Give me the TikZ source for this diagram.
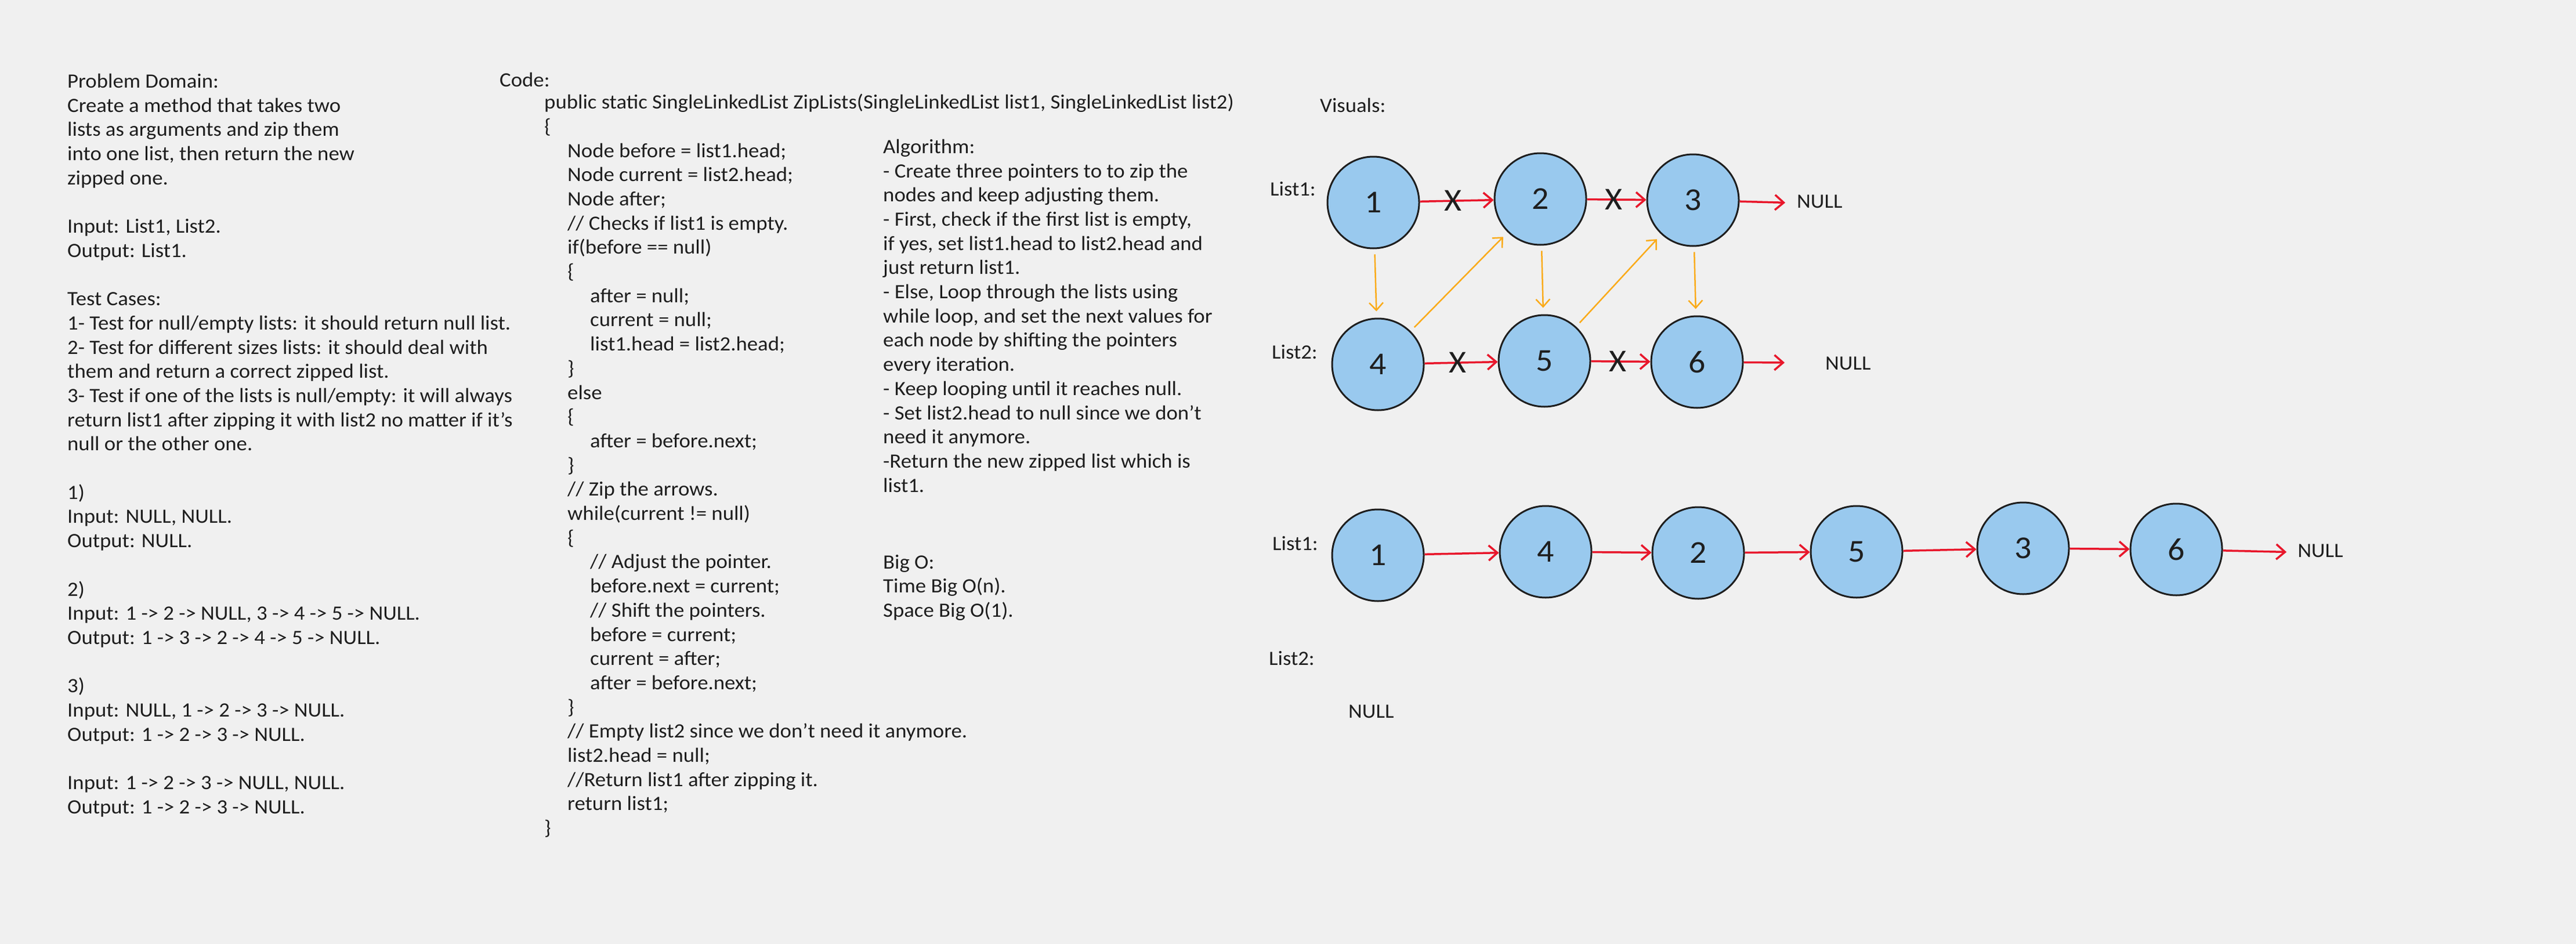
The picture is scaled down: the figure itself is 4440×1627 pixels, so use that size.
\documentclass[tikz,border=0pt]{standalone}
\usepackage{fontspec}
\setmainfont[FakeStretch=1.05]{Carlito}
\usetikzlibrary{arrows.meta}

\definecolor{paper}{HTML}{F0F0F0}
\definecolor{cellblue}{HTML}{99C9EE}
\definecolor{ink}{HTML}{1E1E1E}
\definecolor{linkred}{HTML}{E8172B}
\definecolor{ziporange}{HTML}{FAAB1A}

% indentation of the code lines
\newcommand{\lvlone}{\hspace*{40pt}}
\newcommand{\lvltwo}{\hspace*{79pt}}

\tikzset{
  hand/.style={font=\fontsize{35}{41.7}\selectfont, inner sep=0pt, text=ink},
  % a block is placed by the baseline of its first line
  block/.style={hand, align=left, anchor=north west, yshift=29.19pt, execute at begin node=\strut},
  cell/.style={circle, draw=ink, fill=cellblue, line width=3pt, minimum size=158pt, inner sep=0pt, text=ink, font=\fontsize{55}{60}\selectfont},
  link/.style={draw=linkred, line width=3.5pt, -{Straight Barb[length=15pt,width=26pt]}},
  zip/.style={draw=ziporange, line width=2.5pt, shorten <=9pt, shorten >=11pt, -{Straight Barb[length=13pt,width=24pt]}},
  cut/.style={text=ink, inner sep=0pt, font=\fontsize{55}{60}\selectfont}
}

\begin{document}
\begin{tikzpicture}[x=1pt, y=-1pt]
% Set the page
\fill[paper] (0,0) rectangle (4440,1627);
\useasboundingbox (0,0) rectangle (4440,1627);

% Problem domain and test cases
\node[block] (domain) at (116,156) {Problem Domain:\\
Create a method that takes two\\
lists as arguments and zip them\\
into one list, then return the new\\
zipped one.\\[41.7pt]
Input: List1, List2.\\
Output: List1.\\[41.7pt]
Test Cases:\\
1- Test for null/empty lists: it should return null list.\\
2- Test for different sizes lists: it should deal with\\
them and return a correct zipped list.\\
3- Test if one of the lists is null/empty: it will always\\
return list1 after zipping it with list2 no matter if it's\\
null or the other one.\\[41.7pt]
1)\\
Input: NULL, NULL.\\
Output: NULL.\\[41.7pt]
2)\\
Input: 1 -> 2 -> NULL, 3 -> 4 -> 5 -> NULL.\\
Output: 1 -> 3 -> 2 -> 4 -> 5 -> NULL.\\[41.7pt]
3)\\
Input: NULL, 1 -> 2 -> 3 -> NULL.\\
Output: 1 -> 2 -> 3 -> NULL.\\[41.7pt]
Input: 1 -> 2 -> 3 -> NULL, NULL.\\
Output: 1 -> 2 -> 3 -> NULL.};

% Code
\node[block] (codehead) at (861,149) {Code:};
\node[block] (code) at (938,191) {public static SingleLinkedList ZipLists(SingleLinkedList list1, SingleLinkedList list2)\\
\{\\
\lvlone Node before = list1.head;\\
\lvlone Node current = list2.head;\\
\lvlone Node after;\\
\lvlone // Checks if list1 is empty.\\
\lvlone if(before == null)\\
\lvlone \{\\
\lvltwo after = null;\\
\lvltwo current = null;\\
\lvltwo list1.head = list2.head;\\
\lvlone \}\\
\lvlone else\\
\lvlone \{\\
\lvltwo after = before.next;\\
\lvlone \}\\
\lvlone // Zip the arrows.\\
\lvlone while(current != null)\\
\lvlone \{\\
\lvltwo // Adjust the pointer.\\
\lvltwo before.next = current;\\
\lvltwo // Shift the pointers.\\
\lvltwo before = current;\\
\lvltwo current = after;\\
\lvltwo after = before.next;\\
\lvlone \}\\
\lvlone // Empty list2 since we don't need it anymore.\\
\lvlone list2.head = null;\\
\lvlone //Return list1 after zipping it.\\
\lvlone return list1;\\
\}};

% Algorithm and Big O
\node[block] (algo) at (1522,269) {Algorithm:\\
- Create three pointers to to zip the\\
nodes and keep adjusting them.\\
- First, check if the first list is empty,\\
if yes, set list1.head to list2.head and\\
just return list1.\\
- Else, Loop through the lists using\\
while loop, and set the next values for\\
each node by shifting the pointers\\
every iteration.\\
- Keep looping until it reaches null.\\
- Set list2.head to null since we don't\\
need it anymore.\\
-Return the new zipped list which is\\
list1.};
\node[block] (bigo) at (1522,985) {Big O:\\
Time Big O(n).\\
Space Big O(1).};

% Visuals: before zipping
\node[block] (visuals) at (2275,193) {Visuals:};
\node[block] (lista) at (2189,337) {List1:};
\node[block] (listb) at (2192,618) {List2:};
\node[cell] (a1) at (2367,349) {1};
\node[cell] (a2) at (2655,343) {2};
\node[cell] (a3) at (2918,345) {3};
\node[cell] (b4) at (2375,628) {4};
\node[cell] (b5) at (2662,622) {5};
\node[cell] (b6) at (2925,624) {6};
\node[block] (nulla) at (3097,358) {NULL};
\node[block] (nullb) at (3146,637) {NULL};
\coordinate (endb) at (3076,625);

\draw[link] (a1) -- node[cut, pos=0.45] (xa) {X} (a2);
\draw[link] (a2) -- node[cut, pos=0.45] (xb) {X} (a3);
\draw[link, shorten >=20pt] (a3) -- (nulla.west);
\draw[link] (b4) -- node[cut, pos=0.45] (xc) {X} (b5);
\draw[link] (b5) -- node[cut, pos=0.45] (xd) {X} (b6);
\draw[link] (b6) -- (endb);

\draw[zip] (a1) -- (b4);
\draw[zip] (b4) -- (a2);
\draw[zip] (a2) -- (b5);
\draw[zip] (b5) -- (a3);
\draw[zip] (a3) -- (b6);

% Visuals: after zipping
\node[block] (listc) at (2193,948) {List1:};
\node[block] (listd) at (2187,1146) {List2:};
\node[block] (nulld) at (2324,1237) {NULL};
\node[cell] (c1) at (2375,957) {1};
\node[cell] (c4) at (2664,951) {4};
\node[cell] (c2) at (2927,953) {2};
\node[cell] (c5) at (3200,951) {5};
\node[cell] (c3) at (3487,945) {3};
\node[cell] (c6) at (3751,947) {6};
\node[block] (nullc) at (3960,960) {NULL};

\draw[link] (c1) -- (c4);
\draw[link] (c4) -- (c2);
\draw[link] (c2) -- (c5);
\draw[link] (c5) -- (c3);
\draw[link] (c3) -- (c6);
\draw[link, shorten >=19pt] (c6) -- (nullc.west);
\end{tikzpicture}
\end{document}
